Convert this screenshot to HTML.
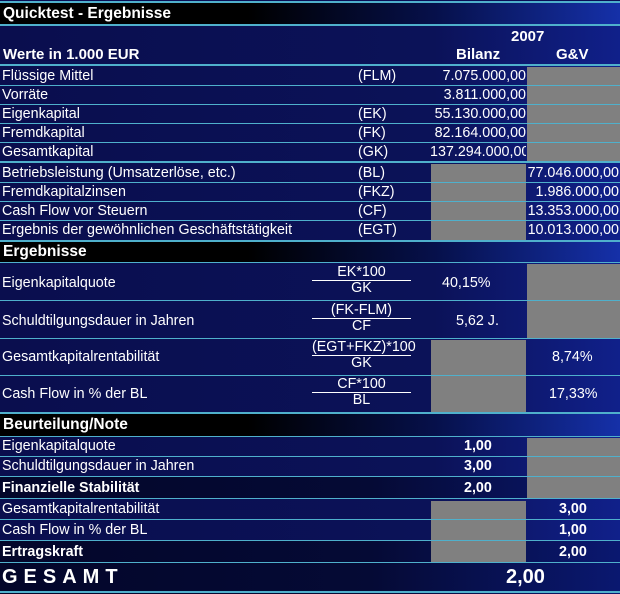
<!DOCTYPE html>
<html><head><meta charset="utf-8"><style>
*{margin:0;padding:0;box-sizing:border-box}
body{width:620px;height:594px;background:#0a0f55;font-family:"Liberation Sans",Arial,sans-serif;color:#fff;position:relative;overflow:hidden;font-size:14.3px}
.r{position:absolute;left:0;width:620px;background:linear-gradient(90deg,#0a0e4e 0%,#0b1258 70%,#10208a 100%)}
.h{position:absolute;left:0;width:620px;background:linear-gradient(90deg,#000 0%,#000 40%,#06104a 70%,#1530a8 100%);font-weight:bold;font-size:15.5px}
.d{background:linear-gradient(90deg,#03062a 0%,#050a35 60%,#0a1870 100%)}
.ln{position:absolute;left:0;width:620px;height:2px;background:#4fb0cc}
.t{position:absolute;white-space:nowrap}
.g{position:absolute;background:#808080}
.fr{position:absolute;left:312px;width:99px;text-align:center;line-height:15px}
.fr div:first-child{border-bottom:1px solid #fff}
.b{font-weight:bold}
</style></head><body>
<div class="ln" style="top:1px"></div>
<div class="h" style="top:3px;height:22px"><span class="t" style="left:3px;top:2px">Quicktest - Ergebnisse</span></div>
<div class="ln" style="top:24px"></div>
<div class="r" style="top:26px;height:39px"></div>
<span class="t b" style="left:511px;top:28px;font-size:15px">2007</span>
<span class="t b" style="left:3px;top:46px;font-size:15px">Werte in 1.000 EUR</span>
<span class="t b" style="left:456px;top:46px;font-size:15px">Bilanz</span>
<span class="t b" style="left:556px;top:46px;font-size:15px">G&amp;V</span>
<div class="ln" style="top:64px"></div>

<div class="r" style="top:66px;height:175px"></div>
<div class="g" style="left:527px;top:67px;width:93px;height:95px"></div>
<div class="g" style="left:431px;top:164px;width:95px;height:77px"></div>
<div class="ln" style="top:85px;height:1px"></div>
<div class="ln" style="top:104px;height:1px"></div>
<div class="ln" style="top:123px;height:1px"></div>
<div class="ln" style="top:142px;height:1px"></div>
<div class="ln" style="top:161px"></div>
<div class="ln" style="top:182px;height:1px"></div>
<div class="ln" style="top:201px;height:1px"></div>
<div class="ln" style="top:220px;height:1px"></div>
<span class="t" style="left:2px;top:68px">Flüssige Mittel</span><span class="t" style="left:358px;top:68px">(FLM)</span><span class="t" style="right:94px;top:68px">7.075.000,00</span>
<span class="t" style="left:2px;top:87px">Vorräte</span><span class="t" style="right:94px;top:87px">3.811.000,00</span>
<span class="t" style="left:2px;top:106px">Eigenkapital</span><span class="t" style="left:358px;top:106px">(EK)</span><span class="t" style="right:94px;top:106px">55.130.000,00</span>
<span class="t" style="left:2px;top:125px">Fremdkapital</span><span class="t" style="left:358px;top:125px">(FK)</span><span class="t" style="right:94px;top:125px">82.164.000,00</span>
<span class="t" style="left:2px;top:144px">Gesamtkapital</span><span class="t" style="left:358px;top:144px">(GK)</span><span class="t" style="left:430px;top:144px;width:96px;overflow:hidden">137.294.000,00</span>
<span class="t" style="left:2px;top:165px">Betriebsleistung (Umsatzerlöse, etc.)</span><span class="t" style="left:358px;top:165px">(BL)</span><span class="t" style="right:1px;top:165px">77.046.000,00</span>
<span class="t" style="left:2px;top:184px">Fremdkapitalzinsen</span><span class="t" style="left:358px;top:184px">(FKZ)</span><span class="t" style="right:1px;top:184px">1.986.000,00</span>
<span class="t" style="left:2px;top:203px">Cash Flow vor Steuern</span><span class="t" style="left:358px;top:203px">(CF)</span><span class="t" style="right:1px;top:203px">13.353.000,00</span>
<span class="t" style="left:2px;top:222px">Ergebnis der gewöhnlichen Geschäftstätigkeit</span><span class="t" style="left:358px;top:222px">(EGT)</span><span class="t" style="right:1px;top:222px">10.013.000,00</span>
<div class="ln" style="top:240px"></div>

<div class="h" style="top:242px;height:20px"><span class="t" style="left:3px;top:1px">Ergebnisse</span></div>
<div class="ln" style="top:262px;height:1px"></div>
<div class="r" style="top:263px;height:150px"></div>
<div class="g" style="left:527px;top:264px;width:93px;height:74px"></div>
<div class="g" style="left:431px;top:340px;width:95px;height:73px"></div>
<div class="ln" style="top:300px;height:1px"></div>
<div class="ln" style="top:338px;height:1px"></div>
<div class="ln" style="top:375px;height:1px"></div>
<span class="t" style="left:2px;top:275px">Eigenkapitalquote</span><div class="fr" style="top:265px"><div>EK*100</div><div>GK</div></div><span class="t" style="left:442px;top:275px">40,15%</span>
<span class="t" style="left:2px;top:313px">Schuldtilgungsdauer in Jahren</span><div class="fr" style="top:303px"><div>(FK-FLM)</div><div>CF</div></div><span class="t" style="left:456px;top:313px">5,62 J.</span>
<span class="t" style="left:2px;top:349px">Gesamtkapitalrentabilität</span><div class="fr" style="top:340px;left:304px;width:115px"><div style="margin:0 8px">(EGT+FKZ)*100</div><div>GK</div></div><span class="t" style="left:552px;top:349px">8,74%</span>
<span class="t" style="left:2px;top:386px">Cash Flow in % der BL</span><div class="fr" style="top:377px"><div>CF*100</div><div>BL</div></div><span class="t" style="left:549px;top:386px">17,33%</span>
<div class="ln" style="top:412px"></div>

<div class="h" style="top:414px;height:22px"><span class="t" style="left:3px;top:2px">Beurteilung/Note</span></div>
<div class="ln" style="top:436px;height:1px"></div>
<div class="r" style="top:437px;height:40px"></div>
<div class="r d" style="top:477px;height:22px"></div>
<div class="r" style="top:499px;height:42px"></div>
<div class="r d" style="top:541px;height:22px"></div>
<div class="r d" style="top:563px;height:31px"></div>
<div class="g" style="left:527px;top:438px;width:93px;height:61px"></div>
<div class="g" style="left:431px;top:501px;width:95px;height:62px"></div>
<div class="ln" style="top:456px;height:1px"></div>
<div class="ln" style="top:476px;height:1px"></div>
<div class="ln" style="top:498px;height:1px"></div>
<div class="ln" style="top:519px;height:1px"></div>
<div class="ln" style="top:540px;height:1px"></div>
<div class="ln" style="top:562px;height:1px"></div>
<div class="ln" style="top:591px"></div>
<span class="t" style="left:2px;top:438px">Eigenkapitalquote</span><span class="t b" style="left:464px;top:438px">1,00</span>
<span class="t" style="left:2px;top:458px">Schuldtilgungsdauer in Jahren</span><span class="t b" style="left:464px;top:458px">3,00</span>
<span class="t b" style="left:2px;top:480px">Finanzielle Stabilität</span><span class="t b" style="left:464px;top:480px">2,00</span>
<span class="t" style="left:2px;top:501px">Gesamtkapitalrentabilität</span><span class="t b" style="left:559px;top:501px">3,00</span>
<span class="t" style="left:2px;top:522px">Cash Flow in % der BL</span><span class="t b" style="left:559px;top:522px">1,00</span>
<span class="t b" style="left:2px;top:544px">Ertragskraft</span><span class="t b" style="left:559px;top:544px">2,00</span>
<span class="t b" style="left:2px;top:566px;font-size:20px;letter-spacing:6px">GESAMT</span>
<span class="t b" style="left:506px;top:566px;font-size:20px">2,00</span>
</body></html>
